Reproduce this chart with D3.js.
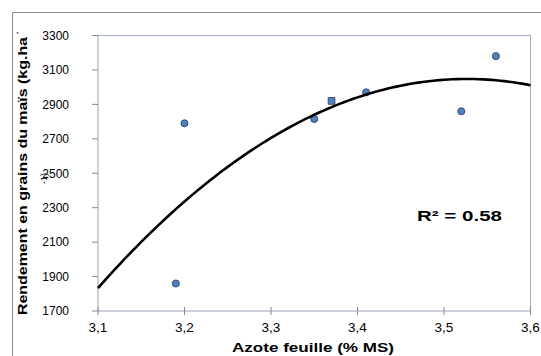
<!DOCTYPE html>
<html><head><meta charset="utf-8">
<script src="https://cdn.jsdelivr.net/npm/d3@7"></script>
<style>
html,body{margin:0;padding:0;background:#fff;}
svg{display:block;font-family:"Liberation Sans",Arial,sans-serif;}
</style></head>
<body>
<svg id="c" width="541" height="356"></svg>
<script>
// Data
const azote = [3.19, 3.20, 3.35, 3.37, 3.41, 3.52, 3.56];
const rendement = [1860, 2790, 2815, 2920, 2970, 2860, 3180];
const markerShape = ["circle","circle","circle","square","circle","circle","circle"];
const xTicks = [3.1, 3.2, 3.3, 3.4, 3.5, 3.6];
const xTickLabels = ["3,1","3,2","3,3","3,4","3,5","3,6"];
const yTicks = [1700, 1900, 2100, 2300, 2500, 2700, 2900, 3100, 3300];
const r2Label = "R² = 0.58";
const xTitle = "Azote feuille (% MS)";
const yTitle = "Rendement en grains du maïs (kg.ha";

const svg = d3.select("#c");
const L = 98, R = 530.5, T = 35.5, B = 311;
const x = d3.scaleLinear().domain([3.1, 3.6]).range([L, R]);
const y = d3.scaleLinear().domain([1700, 3300]).range([B, T]);

// outer frame
svg.append("path").attr("d", `M12.5,356 V12.5 H541`).attr("fill","none").attr("stroke","#8c8c8c").attr("stroke-width",1);

// plot border
svg.append("rect").attr("x", L).attr("y", T).attr("width", R - L).attr("height", B - T)
  .attr("fill", "none").attr("stroke", "#a9b5c6").attr("stroke-width", 1.2);

// y ticks
const gy = svg.append("g");
yTicks.forEach(v => {
  gy.append("line").attr("x1", L - 6).attr("x2", L).attr("y1", y(v)).attr("y2", y(v))
    .attr("stroke", "#8a8a8a").attr("stroke-width", 1);
  gy.append("text").attr("x", 69).attr("y", y(v)).attr("dy", "0.36em")
    .attr("text-anchor", "end").attr("font-size", 12).attr("fill", "#000").text(v);
});
// x ticks
const gx = svg.append("g");
xTicks.forEach((v, i) => {
  gx.append("line").attr("x1", x(v)).attr("x2", x(v)).attr("y1", B - 4).attr("y2", B + 4)
    .attr("stroke", "#8a8a8a").attr("stroke-width", 1);
  gx.append("text").attr("x", x(v)).attr("y", 332).attr("text-anchor", "middle")
    .attr("font-size", 13.5).attr("fill", "#000").text(xTickLabels[i]);
});

// points
const pts = d3.range(azote.length).map(i => ({x: azote[i], y: rendement[i], s: markerShape[i]}));
svg.append("g").selectAll("path").data(pts).join("path")
  .attr("transform", d => `translate(${x(d.x)},${y(d.y)})`)
  .attr("d", d => d3.symbol().type(d.s === "square" ? d3.symbolSquare : d3.symbolCircle).size(d.s === "square" ? 46 : 40)())
  .attr("fill", "#4f81bd").attr("stroke", "#243c5c").attr("stroke-width", 0.8);

// polynomial (order 2) trendline by least squares
function polyFit(xs, ys) {
  const n = xs.length, m = d3.mean(xs);
  let S = [0,0,0,0,0], T2 = [0,0,0];
  xs.forEach((xv, i) => {
    const u = xv - m;
    for (let k = 0; k < 5; k++) S[k] += Math.pow(u, k);
    for (let k = 0; k < 3; k++) T2[k] += Math.pow(u, k) * ys[i];
  });
  const A = [[S[0],S[1],S[2],T2[0]],[S[1],S[2],S[3],T2[1]],[S[2],S[3],S[4],T2[2]]];
  for (let i = 0; i < 3; i++) {
    for (let j = i + 1; j < 3; j++) {
      const f = A[j][i] / A[i][i];
      for (let k = i; k < 4; k++) A[j][k] -= f * A[i][k];
    }
  }
  const c = [0,0,0];
  for (let i = 2; i >= 0; i--) {
    let s = A[i][3];
    for (let k = i + 1; k < 3; k++) s -= A[i][k] * c[k];
    c[i] = s / A[i][i];
  }
  return xv => c[0] + c[1] * (xv - m) + c[2] * (xv - m) * (xv - m);
}
const fit = polyFit(azote, rendement);
const xs = d3.range(0, 101).map(i => 3.1 + i * 0.005);
svg.append("path").datum(xs)
  .attr("d", d3.line().x(d => x(d)).y(d => y(fit(d))).curve(d3.curveLinear))
  .attr("fill", "none").attr("stroke", "#000").attr("stroke-width", 2.6);

// R² label
svg.append("text").attr("x", 417).attr("y", 221).attr("font-size", 15).attr("font-weight", "bold")
  .attr("textLength", 85).attr("lengthAdjust", "spacingAndGlyphs").text(r2Label);

// x title
svg.append("text").attr("x", 232).attr("y", 352).attr("font-size", 12.5).attr("font-weight", "bold")
  .attr("textLength", 162).attr("lengthAdjust", "spacingAndGlyphs").text(xTitle);

// y title
svg.append("text").attr("transform", "translate(27,315) rotate(-90)")
  .attr("font-size", 12).attr("font-weight", "bold")
  .attr("textLength", 278).attr("lengthAdjust", "spacingAndGlyphs").text(yTitle);
svg.append("text").attr("transform", "translate(19,34) rotate(-90)")
  .attr("font-size", 7).attr("font-weight", "bold").text("-");
svg.append("text").attr("transform", "translate(47,184) rotate(-90)")
  .attr("font-size", 9).text("-1)");
</script>
</body></html>
